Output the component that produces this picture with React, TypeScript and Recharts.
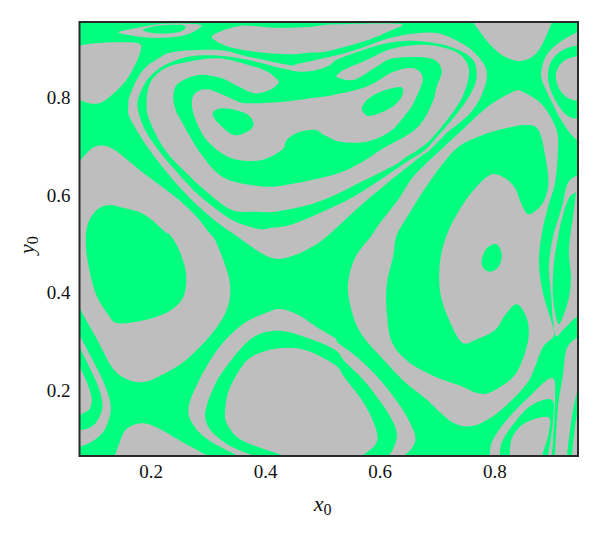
import React from "react";
import { ScatterChart, Scatter, XAxis, YAxis, Label } from "recharts";

type P = number[];
const GREEN = "#00FF7F";
const GRAY = "#BEBEBE";
const X_TICKS = [0.2, 0.4, 0.6, 0.8];
const Y_TICKS = [0.2, 0.4, 0.6, 0.8];
const X_DOMAIN = [0.0752, 0.9452];
const Y_DOMAIN = [0.0648, 0.954];

const frame: P[] = [[0.0752,0.0648],[0.0752,0.954],[0.9452,0.954],[0.9452,0.0648]];
const topLeftGray: P[] = [[0.0752,0.9056],[0.1023,0.9103],[0.1431,0.9124],[0.178,0.9103],[0.1821,0.8967],[0.1722,0.866],[0.1547,0.8318],[0.1314,0.8045],[0.114,0.7895],[0.0965,0.7867],[0.0752,0.7942]];
const topThinGray: P[] = [[0.1431,0.9329],[0.1722,0.9411],[0.2129,0.9493],[0.2595,0.9506],[0.2874,0.9479],[0.2798,0.9377],[0.2595,0.9274],[0.2304,0.922],[0.1954,0.922],[0.1663,0.9261]];
const topThinGreen: P[] = [[0.1867,0.939],[0.2129,0.9465],[0.2536,0.9479],[0.2595,0.9411],[0.2478,0.9329],[0.2187,0.9302],[0.1954,0.9329]];
const bigTopGray: P[] = [[0.3072,0.9206],[0.3177,0.9329],[0.3584,0.9465],[0.4166,0.9424],[0.4748,0.9438],[0.5214,0.9493],[0.6347,0.95],[0.6143,0.9343],[0.5794,0.9172],[0.5386,0.9035],[0.5037,0.8933],[0.4748,0.8912],[0.4399,0.8878],[0.3817,0.8933],[0.3351,0.9035]];
const bandA: P[] = [[0.1605,0.784],[0.1634,0.8045],[0.1838,0.8523],[0.2129,0.8796],[0.242,0.8933],[0.3177,0.8967],[0.37,0.883],[0.4399,0.866],[0.4603,0.8694],[0.5474,0.8933],[0.6114,0.9192],[0.6638,0.9308],[0.7016,0.9308],[0.7365,0.9138],[0.7656,0.8899],[0.786,0.8523],[0.7772,0.8045],[0.754,0.7635],[0.719,0.7294],[0.687,0.6918],[0.6694,0.6773],[0.6083,0.62],[0.5612,0.5729],[0.5036,0.5114],[0.4739,0.4889],[0.4513,0.4766],[0.4224,0.4684],[0.3933,0.48],[0.3467,0.5176],[0.3177,0.5415],[0.2769,0.5825],[0.2362,0.6337],[0.1954,0.6952],[0.1634,0.7567]];
const bandB: P[] = [[0.178,0.7703],[0.178,0.7977],[0.1954,0.8386],[0.2245,0.866],[0.2653,0.883],[0.3177,0.8851],[0.37,0.8762],[0.4282,0.8591],[0.4603,0.8523],[0.4893,0.8557],[0.5124,0.866],[0.5299,0.8796],[0.6056,0.909],[0.6638,0.9151],[0.7219,0.9035],[0.7598,0.8796],[0.7685,0.8455],[0.7598,0.8113],[0.7365,0.7703],[0.7074,0.7294],[0.6783,0.6918],[0.6432,0.6651],[0.5996,0.6301],[0.5525,0.5954],[0.4949,0.5627],[0.4425,0.5381],[0.4076,0.532],[0.3875,0.5299],[0.3468,0.545],[0.3118,0.5723],[0.2769,0.6064],[0.242,0.6508],[0.2129,0.6918],[0.1896,0.7328]];
const bandC: P[] = [[0.4236,0.8318],[0.405,0.8509],[0.37,0.866],[0.3177,0.8796],[0.2653,0.8728],[0.2245,0.8591],[0.1984,0.8284],[0.1925,0.784],[0.1984,0.7498],[0.2245,0.6918],[0.2595,0.6474],[0.3002,0.603],[0.3409,0.5688],[0.3817,0.5654],[0.4166,0.5654],[0.4748,0.5791],[0.5214,0.5996],[0.5619,0.6235],[0.6259,0.661],[0.6405,0.6733],[0.6696,0.6952],[0.6899,0.7157],[0.719,0.7567],[0.7423,0.7977],[0.754,0.8386],[0.7528,0.8659],[0.7365,0.8899],[0.7045,0.9035],[0.6638,0.9069],[0.6172,0.8981],[0.5765,0.8762],[0.5357,0.8557],[0.5229,0.842]];
const bandD: P[] = [[0.4236,0.8318],[0.4108,0.8168],[0.3817,0.8079],[0.3526,0.8216],[0.3235,0.8386],[0.2827,0.8455],[0.2478,0.8284],[0.2391,0.8045],[0.242,0.7772],[0.2536,0.7498],[0.2886,0.6815],[0.3293,0.6337],[0.3991,0.6167],[0.4515,0.6235],[0.5212,0.6419],[0.5648,0.6645],[0.6056,0.6952],[0.6521,0.7259],[0.6754,0.7532],[0.6929,0.7942],[0.6987,0.8216],[0.7074,0.8557],[0.687,0.8796],[0.623,0.8796],[0.5939,0.8625],[0.5532,0.8352],[0.5229,0.842],[0.4748,0.8441]];
const bandE: P[] = [[0.2711,0.7874],[0.2769,0.8079],[0.2973,0.8161],[0.3264,0.8045],[0.3526,0.7908],[0.373,0.7874],[0.4312,0.7908],[0.4777,0.7977],[0.5183,0.8045],[0.5765,0.8216],[0.623,0.8523],[0.6579,0.8591],[0.6742,0.8386],[0.6608,0.7942],[0.6463,0.7669],[0.6172,0.7294],[0.5765,0.7089],[0.5299,0.7089],[0.5037,0.7212],[0.4864,0.7328],[0.4573,0.728],[0.437,0.7123],[0.4282,0.6918],[0.3933,0.6713],[0.3526,0.6713],[0.3235,0.685],[0.2944,0.7157],[0.2769,0.7567]];
const islandOne: P[] = [[0.3089,0.7703],[0.3235,0.7772],[0.3468,0.7737],[0.37,0.7635],[0.3788,0.7464],[0.373,0.7328],[0.3526,0.7225],[0.338,0.7259],[0.3177,0.7464],[0.3089,0.7601]];
const islandTwo: P[] = [[0.5682,0.7778],[0.5769,0.7942],[0.5996,0.8106],[0.6345,0.8208],[0.6397,0.8085],[0.631,0.7901],[0.6118,0.7737],[0.5821,0.7614],[0.5717,0.7676]];
const leftGray: P[] = [[0.0752,0.6679],[0.0849,0.6815],[0.1023,0.6986],[0.1314,0.6952],[0.1838,0.6474],[0.242,0.5962],[0.2769,0.5586],[0.3002,0.5244],[0.3118,0.5074],[0.3293,0.4561],[0.338,0.4151],[0.3351,0.3742],[0.3177,0.3332],[0.2886,0.2922],[0.2536,0.2546],[0.2129,0.2273],[0.1838,0.2157],[0.1547,0.2239],[0.1314,0.2478],[0.1081,0.299],[0.0849,0.3469],[0.0752,0.3708]];
const leftGreen: P[] = [[0.0878,0.5313],[0.1023,0.5654],[0.1256,0.5791],[0.1547,0.5723],[0.1896,0.5586],[0.2245,0.5244],[0.2333,0.5176],[0.2478,0.4903],[0.2595,0.4493],[0.2612,0.4151],[0.2536,0.3844],[0.2304,0.3605],[0.1896,0.3434],[0.1431,0.3366],[0.1256,0.3537],[0.1023,0.4015],[0.0878,0.4766]];
const bottomGray: P[] = [[0.2653,0.1624],[0.2827,0.2171],[0.3177,0.2854],[0.3584,0.3332],[0.3991,0.3571],[0.4253,0.366],[0.4573,0.3537],[0.4923,0.3264],[0.5214,0.3059],[0.527,0.2956],[0.5619,0.2649],[0.6026,0.2171],[0.6376,0.1624],[0.6608,0.1078],[0.655,0.0805],[0.6405,0.0648],[0.3526,0.0648],[0.3002,0.0976],[0.274,0.1283]];
const bottomGreen: P[] = [[0.2944,0.1488],[0.3061,0.1966],[0.3293,0.2444],[0.3758,0.3059],[0.4224,0.3216],[0.4748,0.3059],[0.5214,0.282],[0.5386,0.258],[0.5735,0.2171],[0.6085,0.1624],[0.6288,0.1146],[0.623,0.0805],[0.6143,0.0648],[0.3817,0.0648],[0.3409,0.0839],[0.3061,0.1146]];
const bottomInner: P[] = [[0.3293,0.1556],[0.3351,0.1966],[0.3526,0.2376],[0.3758,0.2683],[0.4224,0.2854],[0.469,0.282],[0.5214,0.2512],[0.5386,0.2239],[0.5735,0.1693],[0.5939,0.1146],[0.591,0.0873],[0.5677,0.0648],[0.4341,0.0648],[0.3933,0.0805],[0.3526,0.101],[0.3322,0.1317]];
const bottomSmall: P[] = [[0.1372,0.0648],[0.1518,0.1112],[0.1663,0.1269],[0.1867,0.1317],[0.2129,0.1215],[0.2536,0.0941],[0.3002,0.0648]];
const edgeGray: P[] = [[0.0752,0.3127],[0.0965,0.2649],[0.1169,0.2171],[0.1285,0.1761],[0.1285,0.1488],[0.1169,0.1146],[0.0965,0.0941],[0.0752,0.0839]];
const edgeGreen: P[] = [[0.0752,0.2888],[0.0965,0.2376],[0.1111,0.1966],[0.1151,0.1624],[0.1052,0.1351],[0.0907,0.1215],[0.0752,0.118]];
const edgeInner: P[] = [[0.0752,0.2478],[0.0878,0.2171],[0.0965,0.1829],[0.0936,0.1624],[0.0849,0.1543],[0.0752,0.1488]];
const topRightGray: P[] = [[0.7618,0.954],[0.788,0.913],[0.8125,0.8864],[0.8404,0.8741],[0.8648,0.8823],[0.8823,0.9069],[0.8997,0.954]];
const ringGray: P[] = [[0.9452,0.9335],[0.9189,0.9171],[0.8927,0.8905],[0.8823,0.8598],[0.8823,0.8352],[0.8962,0.7983],[0.9137,0.7573],[0.9311,0.7266],[0.9452,0.7102]];
const ringGreen: P[] = [[0.9452,0.9069],[0.9189,0.8966],[0.8997,0.8762],[0.8927,0.8495],[0.8962,0.8188],[0.9102,0.784],[0.9276,0.7614],[0.9452,0.7553]];
const ringInner: P[] = [[0.9452,0.8843],[0.9224,0.8762],[0.9102,0.8598],[0.9067,0.8393],[0.9137,0.8147],[0.9276,0.7983],[0.9452,0.7921]];
const rightBand: P[] = [[0.5856,0.5176],[0.5996,0.5422],[0.631,0.5893],[0.6572,0.6364],[0.6921,0.6774],[0.7392,0.7286],[0.7915,0.784],[0.8352,0.8126],[0.8491,0.8106],[0.8735,0.7942],[0.891,0.7717],[0.9084,0.7307],[0.9102,0.6897],[0.905,0.6241],[0.8927,0.575],[0.8823,0.5217],[0.877,0.4602],[0.884,0.3987],[0.8962,0.3496],[0.9032,0.3127],[0.884,0.2881],[0.87,0.2471],[0.8578,0.2164],[0.8299,0.1795],[0.795,0.1447],[0.7601,0.1262],[0.7252,0.1344],[0.6781,0.1836],[0.6432,0.2164],[0.6031,0.2656],[0.5682,0.3127],[0.5507,0.3598],[0.5437,0.4151],[0.556,0.4705]];
const cGreen: P[] = [[0.6288,0.5176],[0.6492,0.5586],[0.6783,0.6132],[0.7074,0.6611],[0.7365,0.6986],[0.7714,0.7191],[0.8064,0.7328],[0.8529,0.743],[0.8762,0.7328],[0.8878,0.6815],[0.8937,0.6269],[0.8879,0.5927],[0.8762,0.5723],[0.8587,0.56],[0.8471,0.5791],[0.8355,0.6132],[0.818,0.6337],[0.7947,0.6419],[0.7656,0.6132],[0.7365,0.5654],[0.7161,0.5176],[0.7045,0.463],[0.7045,0.4015],[0.719,0.3469],[0.7423,0.2977],[0.7656,0.3025],[0.8005,0.3229],[0.818,0.3537],[0.8384,0.3755],[0.8558,0.3469],[0.8587,0.3059],[0.8471,0.2581],[0.8296,0.2239],[0.7947,0.1966],[0.7714,0.1932],[0.7365,0.2103],[0.6958,0.2273],[0.6492,0.2581],[0.6201,0.299],[0.6114,0.3605],[0.6114,0.4151],[0.623,0.4766]];
const oval: P[] = [[0.7772,0.4664],[0.786,0.4903],[0.8034,0.4985],[0.8122,0.4766],[0.8064,0.4527],[0.7918,0.4425],[0.7801,0.4493]];
const lensGray: P[] = [[0.9452,0.6405],[0.9276,0.6241],[0.9172,0.575],[0.9015,0.5135],[0.8945,0.452],[0.898,0.3987],[0.9015,0.3434],[0.9067,0.3106],[0.9189,0.3229],[0.9399,0.3475],[0.9452,0.3496]];
const lensGreen: P[] = [[0.9399,0.6036],[0.9276,0.5893],[0.9137,0.534],[0.9032,0.4602],[0.9015,0.3905],[0.9102,0.3373],[0.9189,0.3496],[0.9294,0.3905],[0.9329,0.4315],[0.9294,0.4868],[0.9364,0.5545],[0.9416,0.6036]];
const cornerRightGray: P[] = [[0.9452,0.3086],[0.9259,0.286],[0.9189,0.2307],[0.9102,0.1631],[0.905,0.0648],[0.9452,0.0648]];
const cornerRightGreen: P[] = [[0.9452,0.2061],[0.9346,0.1447],[0.9259,0.0648],[0.9346,0.0648],[0.9399,0.1242],[0.9452,0.1592]];
const cornerGray: P[] = [[0.7915,0.0648],[0.795,0.0934],[0.8177,0.1344],[0.8578,0.1836],[0.8997,0.2246],[0.905,0.1754],[0.8997,0.0648]];
const cornerGreen: P[] = [[0.809,0.0648],[0.8125,0.0934],[0.8352,0.1344],[0.8648,0.1692],[0.8997,0.1795],[0.9015,0.1344],[0.8927,0.0648]];
const cornerInner: P[] = [[0.8264,0.0648],[0.8299,0.1016],[0.8526,0.1324],[0.8927,0.1447],[0.8945,0.1139],[0.8823,0.0648]];
const fingerTips: P[] = [[0.4236,0.8318],[0.5229,0.842]];

const LAYERS: [string, P[], string][] = [
  ["background", frame, GREEN],
  ["topLeftGray", topLeftGray, GRAY],
  ["topThinGray", topThinGray, GRAY],
  ["topThinGreen", topThinGreen, GREEN],
  ["bigTopGray", bigTopGray, GRAY],
  ["bandA", bandA, GRAY],
  ["bandB", bandB, GREEN],
  ["bandC", bandC, GRAY],
  ["bandD", bandD, GREEN],
  ["bandE", bandE, GRAY],
  ["islandOne", islandOne, GREEN],
  ["islandTwo", islandTwo, GREEN],
  ["leftGray", leftGray, GRAY],
  ["leftGreen", leftGreen, GREEN],
  ["bottomGray", bottomGray, GRAY],
  ["bottomGreen", bottomGreen, GREEN],
  ["bottomInner", bottomInner, GRAY],
  ["bottomSmall", bottomSmall, GRAY],
  ["edgeGray", edgeGray, GRAY],
  ["edgeGreen", edgeGreen, GREEN],
  ["edgeInner", edgeInner, GRAY],
  ["topRightGray", topRightGray, GRAY],
  ["ringGray", ringGray, GRAY],
  ["ringGreen", ringGreen, GREEN],
  ["ringInner", ringInner, GRAY],
  ["rightBand", rightBand, GRAY],
  ["cGreen", cGreen, GREEN],
  ["oval", oval, GREEN],
  ["lensGray", lensGray, GRAY],
  ["lensGreen", lensGreen, GREEN],
  ["cornerRightGray", cornerRightGray, GRAY],
  ["cornerRightGreen", cornerRightGreen, GREEN],
  ["cornerGray", cornerGray, GRAY],
  ["cornerGreen", cornerGreen, GREEN],
  ["cornerInner", cornerInner, GRAY],
];

const FONT = "'Liberation Serif', serif";
const toRows = (pts: P[]) => pts.map(([x, y]) => ({ x, y }));
const noDot = () => <g />;

type Pt = { x: number; y: number };
// Closed Catmull-Rom outline; flagged points (frame contacts, finger tips) stay sharp.
const smoothPath = (pts: Pt[], sharp: boolean[]) => {
  const n = pts.length;
  const tan = pts.map((p, i) => {
    if (sharp[i]) return { x: 0, y: 0 };
    const a = pts[(i - 1 + n) % n];
    const b = pts[(i + 1) % n];
    return { x: (b.x - a.x) / 6, y: (b.y - a.y) / 6 };
  });
  let d = `M${pts[0].x},${pts[0].y}`;
  for (let i = 0; i < n; i++) {
    const j = (i + 1) % n;
    const p = pts[i];
    const q = pts[j];
    d += `C${p.x + tan[i].x},${p.y + tan[i].y} ${q.x - tan[j].x},${q.y - tan[j].y} ${q.x},${q.y}`;
  }
  return d + "Z";
};
const isSharp = ([x, y]: P) =>
  x <= X_DOMAIN[0] ||
  x >= X_DOMAIN[1] ||
  y <= Y_DOMAIN[0] ||
  y >= Y_DOMAIN[1] ||
  fingerTips.some(([a, b]) => a === x && b === y);

const XLabel = (props: any) => {
  const { viewBox } = props;
  const cx = viewBox.x + viewBox.width / 2;
  return (
    <text x={cx - 15} y={511} fontFamily={FONT} fontSize={22} fill="#111">
      <tspan fontStyle="italic">x</tspan>
      <tspan fontSize={16} dy={4}>0</tspan>
    </text>
  );
};
const YLabel = () => (
  <text transform="translate(34,254) rotate(-90)" fontFamily={FONT} fontSize={22} fill="#111">
    <tspan fontStyle="italic">y</tspan>
    <tspan fontSize={16} dy={4}>0</tspan>
  </text>
);

export default function App() {
  return (
    <div style={{ position: "absolute", left: 0, top: 0, width: 600, height: 535, background: "#fff" }}>
      <ScatterChart width={600} height={535} margin={{ top: 22, right: 22, bottom: 0, left: 0 }}>
        <XAxis
          type="number"
          dataKey="x"
          domain={X_DOMAIN}
          ticks={X_TICKS}
          tickFormatter={(v: number) => v.toFixed(1)}
          height={79}
          axisLine={false}
          tickLine={false}
          tickMargin={3}
          tick={{ fontFamily: FONT, fontSize: 19, fill: "#111" }}
        >
          <Label content={XLabel} />
        </XAxis>
        <YAxis
          type="number"
          dataKey="y"
          domain={Y_DOMAIN}
          ticks={Y_TICKS}
          tickFormatter={(v: number) => v.toFixed(1)}
          width={79.5}
          axisLine={false}
          tickLine={false}
          tickMargin={3}
          tick={{ fontFamily: FONT, fontSize: 19, fill: "#111" }}
        >
          <Label content={YLabel} />
        </YAxis>
        {LAYERS.map(([name, pts, color]) => (
          <Scatter
            key={name}
            name={name}
            data={toRows(pts)}
            isAnimationActive={false}
            shape={noDot}
            line={(p: any) => (
              <path d={smoothPath(p.points, pts.map(isSharp))} fill={color} stroke="none" />
            )}
          />
        ))}
        <Scatter
          name="frame"
          data={toRows(frame)}
          isAnimationActive={false}
          shape={noDot}
          line={(p: any) => (
            <path
              d={p.points.map((q: Pt, i: number) => `${i ? "L" : "M"}${q.x},${q.y}`).join("") + "Z"}
              fill="none"
              stroke="#2a2a2a"
              strokeWidth={2}
            />
          )}
        />
      </ScatterChart>
    </div>
  );
}
